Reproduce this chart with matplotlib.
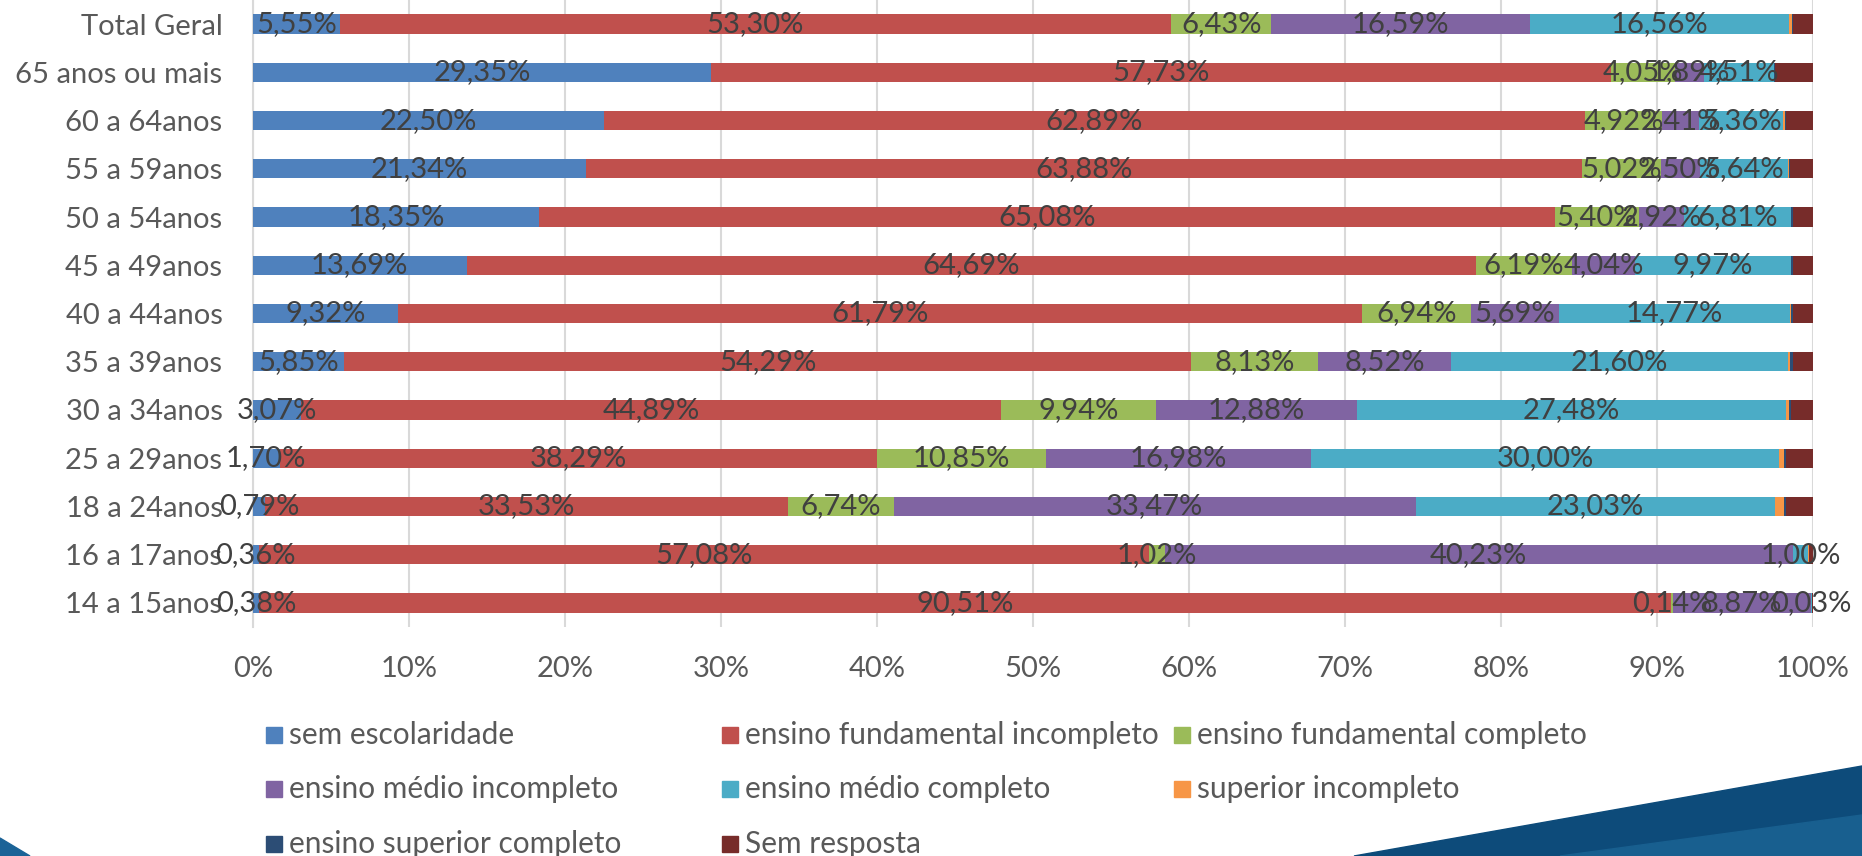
import numpy as np
import matplotlib
matplotlib.use('Agg')
import matplotlib.pyplot as plt
from matplotlib.patches import Polygon, Rectangle

plt.rcParams['font.family'] = ['Lato', 'DejaVu Sans']

# faixas etarias (de cima para baixo)
categorias = ['Total Geral', '65 anos ou mais', '60 a 64anos', '55 a 59anos', '50 a 54anos',
              '45 a 49anos', '40 a 44anos', '35 a 39anos', '30 a 34anos', '25 a 29anos',
              '18 a 24anos', '16 a 17anos', '14 a 15anos']

# percentuais por escolaridade
sem_escolaridade = [5.55, 29.35, 22.50, 21.34, 18.35, 13.69, 9.32, 5.85, 3.07, 1.70, 0.79, 0.36, 0.38]
fund_incompleto = [53.30, 57.73, 62.89, 63.88, 65.08, 64.69, 61.79, 54.29, 44.89, 38.29, 33.53, 57.08, 90.51]
fund_completo = [6.43, 4.05, 4.92, 5.02, 5.40, 6.19, 6.94, 8.13, 9.94, 10.85, 6.74, 1.02, 0.14]
medio_incompleto = [16.59, 1.89, 2.41, 2.50, 2.92, 4.04, 5.69, 8.52, 12.88, 16.98, 33.47, 40.23, 8.87]
medio_completo = [16.56, 4.51, 5.36, 5.64, 6.81, 9.97, 14.77, 21.60, 27.48, 30.00, 23.03, 1.00, 0.03]
superior_incompleto = [0.20, 0.00, 0.10, 0.05, 0.05, 0.04, 0.10, 0.15, 0.20, 0.32, 0.60, 0.05, 0.00]
superior_completo = [0.10, 0.05, 0.10, 0.07, 0.10, 0.10, 0.10, 0.18, 0.15, 0.15, 0.08, 0.00, 0.00]
sem_resposta = [1.27, 2.42, 1.72, 1.50, 1.29, 1.28, 1.29, 1.28, 1.39, 1.71, 1.76, 0.26, 0.07]

series_nomes = ['sem escolaridade', 'ensino fundamental incompleto', 'ensino fundamental completo',
                'ensino médio incompleto', 'ensino médio completo', 'superior incompleto',
                'ensino superior completo', 'Sem resposta']
series = [sem_escolaridade, fund_incompleto, fund_completo, medio_incompleto, medio_completo,
          superior_incompleto, superior_completo, sem_resposta]
cores = ['#4F81BD', '#C0504D', '#9BBB59', '#8064A2', '#4BACC6', '#F79646', '#2C4D75', '#772C2A']
com_rotulo = [True, True, True, True, True, False, False, False]

W, H = 1862, 856
fig = plt.figure(figsize=(W / 100, H / 100), dpi=100)
ax = fig.add_axes([253 / W, 1 - 627 / H, 1560 / W, 627 / H])

y = np.arange(len(categorias))
esquerda = np.zeros(len(categorias))
for nome, vals, cor, rot in zip(series_nomes, series, cores, com_rotulo):
    vals = np.array(vals) / 100
    barras = ax.barh(y, vals, left=esquerda, height=0.4, color=cor, label=nome, zorder=3)
    if rot:
        textos = [f'{v * 100:.2f}%'.replace('.', ',') for v in vals]
        ax.bar_label(barras, labels=textos, label_type='center', fontsize=21,
                     color='#404040', zorder=4)
    esquerda += vals

ax.set_xlim(0, 1)
ax.set_ylim(len(categorias) - 0.5, -0.5)
ax.set_xticks(np.arange(0, 1.01, 0.1))
ax.set_xticklabels([f'{int(round(t * 100))}%' for t in np.arange(0, 1.01, 0.1)])
ax.set_yticks(y)
ax.set_yticklabels(categorias)
ax.tick_params(axis='both', length=0, labelsize=21, labelcolor='#595959')
ax.tick_params(axis='x', pad=21)
ax.tick_params(axis='y', pad=22)
ax.grid(axis='x', color='#D9D9D9', linewidth=1.5, zorder=0)
for lado in ['top', 'right', 'bottom']:
    ax.spines[lado].set_visible(False)
ax.spines['left'].set_color('#D9D9D9')
ax.spines['left'].set_linewidth(1.5)

# legenda em 3 colunas, desenhada a mao
col_x = [266, 722, 1174]
lin_y = [735, 789, 844]
for i, (nome, cor) in enumerate(zip(series_nomes, cores)):
    c, l = i % 3, i // 3
    fig.add_artist(Rectangle((col_x[c] / W, 1 - (lin_y[l] + 8) / H), 16 / W, 16 / H,
                             transform=fig.transFigure, color=cor))
    fig.text((col_x[c] + 23) / W, 1 - lin_y[l] / H, nome, fontsize=21.5, color='#595959',
             ha='left', va='center')

# faixas azuis do slide
fig.add_artist(Polygon([(1354 / W, 0), (1, 1 - 766 / H), (1, 0)], closed=True,
                       transform=fig.transFigure, color='#0D4B7A'))
fig.add_artist(Polygon([(1560 / W, 0), (1, 1 - 815 / H), (1, 0)], closed=True,
                       transform=fig.transFigure, color='#185F8F'))
fig.add_artist(Polygon([(0, 1 - 838 / H), (30 / W, 0), (0, 0)], closed=True,
                       transform=fig.transFigure, color='#1B6397'))

fig.savefig('out.png', dpi=100)
